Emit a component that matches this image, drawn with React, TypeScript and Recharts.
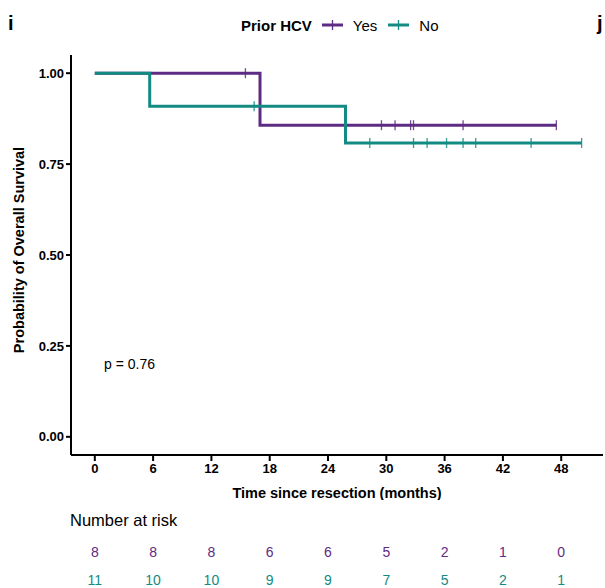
import React from 'react';
import {
  ComposedChart,
  Line,
  Scatter,
  XAxis,
  YAxis,
  ReferenceDot,
} from 'recharts';

const PURPLE = '#5d2b83';
const TEAL = '#138a82';
const FONT = '"Liberation Sans", Arial, sans-serif';

// Kaplan-Meier step curves (time in months, survival probability)
const yesCurve = [
  { t: 0, s: 1 },
  { t: 17, s: 0.857 },
  { t: 47.5, s: 0.857 },
];
const noCurve = [
  { t: 0, s: 1 },
  { t: 5.65, s: 0.909 },
  { t: 25.8, s: 0.808 },
  { t: 50.1, s: 0.808 },
];

// censoring times
const yesCensored = [15.5, 29.5, 30.9, 32.5, 32.8, 37.9, 47.5];
const noCensored = [16.4, 28.3, 32.8, 34.2, 36.2, 37.9, 39.2, 44.9, 50.1];

// number at risk table
const riskTimes = [0, 6, 12, 18, 24, 30, 36, 42, 48];
const riskYes = [8, 8, 8, 6, 6, 5, 2, 1, 0];
const riskNo = [11, 10, 10, 9, 9, 7, 5, 2, 1];

const xTicks = [0, 6, 12, 18, 24, 30, 36, 42, 48];
const yTicks = [0, 0.25, 0.5, 0.75, 1];
const X_DOMAIN: [number, number] = [-2.45, 52.3];

// survival value at time t on a step curve
const survAt = (curve: { t: number; s: number }[], t: number) => {
  let s = curve[0].s;
  for (const p of curve) {
    if (p.t <= t) s = p.s;
  }
  return s;
};

const yesMarks = yesCensored.map((t) => ({ t, s: survAt(yesCurve, t) }));
const noMarks = noCensored.map((t) => ({ t, s: survAt(noCurve, t) }));

const riskRows = [
  ...riskTimes.map((t, i) => ({ t, row: 1.5, n: riskYes[i], color: PURPLE })),
  ...riskTimes.map((t, i) => ({ t, row: 0.5, n: riskNo[i], color: TEAL })),
];

const censorShape = (color: string) => (props: any) => {
  const { cx, cy } = props;
  return (
    <line x1={cx} x2={cx} y1={cy - 5} y2={cy + 5} stroke={color} strokeWidth={1.3} opacity={0.85} />
  );
};

const riskShape = (props: any) => {
  const { cx, cy, payload } = props;
  return (
    <text
      x={cx}
      y={cy}
      textAnchor="middle"
      dominantBaseline="central"
      fill={payload.color}
      fontSize={14}
      fontFamily={FONT}
    >
      {payload.n}
    </text>
  );
};

const LegendIcon = ({ color }: { color: string }) => (
  <svg width={21} height={12} style={{ display: 'block' }}>
    <line x1={0} x2={21} y1={6} y2={6} stroke={color} strokeWidth={3} />
    <line x1={10.5} x2={10.5} y1={1} y2={11} stroke={color} strokeWidth={1.3} />
  </svg>
);

export default function App() {
  const tickStyle = { fontSize: 13, fontWeight: 700, fill: '#000', fontFamily: FONT };
  return (
    <div
      style={{
        position: 'absolute',
        left: 0,
        top: 0,
        width: 605,
        height: 588,
        overflow: 'hidden',
        background: '#fff',
        fontFamily: FONT,
      }}
    >
      <div style={{ position: 'absolute', left: 8, top: 12, fontSize: 20, fontWeight: 700 }}>i</div>
      <div style={{ position: 'absolute', left: 597, top: 12, fontSize: 20, fontWeight: 700 }}>j</div>

      <div
        style={{
          position: 'absolute',
          left: 241,
          top: 16,
          height: 18,
          display: 'flex',
          alignItems: 'center',
          fontSize: 15,
        }}
      >
        <span style={{ fontWeight: 700, marginRight: 10 }}>Prior HCV</span>
        <LegendIcon color={PURPLE} />
        <span style={{ marginLeft: 10, marginRight: 11 }}>Yes</span>
        <LegendIcon color={TEAL} />
        <span style={{ marginLeft: 10 }}>No</span>
      </div>

      <div style={{ position: 'absolute', left: 0, top: 0 }}>
        <ComposedChart width={605} height={500} margin={{ top: 55, right: 2, left: 11, bottom: 0 }}>
          <XAxis
            dataKey="t"
            type="number"
            domain={X_DOMAIN}
            ticks={xTicks}
            allowDataOverflow
            height={45}
            tick={tickStyle}
            tickSize={6}
            tickMargin={3}
            axisLine={{ stroke: '#000', strokeWidth: 2 }}
            tickLine={{ stroke: '#000', strokeWidth: 2 }}
            label={{
              value: 'Time since resection (months)',
              position: 'insideBottom',
              offset: 2,
              style: { fontSize: 14.5, fontWeight: 700, fill: '#000', fontFamily: FONT },
            }}
          />
          <YAxis
            type="number"
            domain={[-0.05, 1.05]}
            ticks={yTicks}
            allowDataOverflow
            width={60}
            tick={tickStyle}
            tickSize={5}
            tickFormatter={(v: number) => v.toFixed(2)}
            axisLine={{ stroke: '#000', strokeWidth: 2 }}
            tickLine={{ stroke: '#000', strokeWidth: 2 }}
            label={{
              value: 'Probability of Overall Survival',
              angle: -90,
              position: 'insideLeft',
              offset: 8,
              dy: -5,
              style: { textAnchor: 'middle', fontSize: 14.5, fontWeight: 700, fill: '#000', fontFamily: FONT },
            }}
          />
          <Line
            data={yesCurve}
            dataKey="s"
            type="stepAfter"
            stroke={PURPLE}
            strokeWidth={3}
            dot={false}
            activeDot={false}
            isAnimationActive={false}
          />
          <Line
            data={noCurve}
            dataKey="s"
            type="stepAfter"
            stroke={TEAL}
            strokeWidth={3}
            dot={false}
            activeDot={false}
            isAnimationActive={false}
          />
          <Scatter data={yesMarks} dataKey="s" shape={censorShape(PURPLE)} isAnimationActive={false} />
          <Scatter data={noMarks} dataKey="s" shape={censorShape(TEAL)} isAnimationActive={false} />
          <ReferenceDot
            x={0.43}
            y={0.199}
            r={0}
            fill="none"
            stroke="none"
            label={{
              value: 'p = 0.76',
              position: 'right',
              offset: 5,
              style: { fontSize: 14, fill: '#000', fontFamily: FONT },
            }}
          />
        </ComposedChart>
      </div>

      <div style={{ position: 'absolute', left: 70, top: 510, fontSize: 16.5, lineHeight: '20px' }}>
        Number at risk
      </div>

      <div style={{ position: 'absolute', left: 0, top: 538 }}>
        <ComposedChart width={605} height={56} margin={{ top: 0, right: 2, left: 71, bottom: 0 }}>
          <XAxis dataKey="t" type="number" domain={X_DOMAIN} hide />
          <YAxis dataKey="row" type="number" domain={[0, 2]} hide />
          <Scatter data={riskRows} dataKey="row" shape={riskShape} isAnimationActive={false} />
        </ComposedChart>
      </div>
    </div>
  );
}
